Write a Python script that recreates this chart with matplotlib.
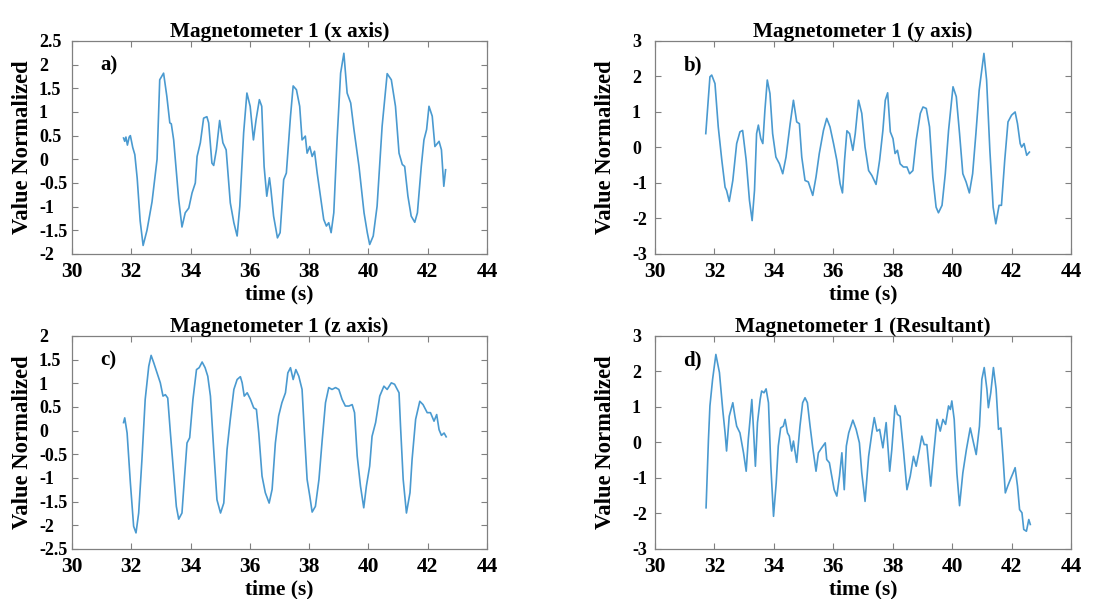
import matplotlib
matplotlib.use("Agg")
import matplotlib.pyplot as plt
import numpy as np

# values (time in s, normalized value)
t_x = [31.74, 31.78, 31.82, 31.87, 31.93, 31.97, 32.05, 32.12, 32.2, 32.3, 32.4, 32.53, 32.7, 32.87,
       32.96, 33.09, 33.2, 33.3, 33.35, 33.43, 33.6, 33.71, 33.82, 33.94, 34.05, 34.16, 34.22, 34.33,
       34.44, 34.55, 34.61, 34.72, 34.78, 34.87, 34.98, 35.09, 35.2, 35.34, 35.46, 35.57, 35.66, 35.79,
       35.9, 36.01, 36.12, 36.21, 36.32, 36.4, 36.48, 36.57, 36.66, 36.71, 36.8, 36.93, 37.02, 37.14,
       37.23, 37.37, 37.46, 37.57, 37.68, 37.76, 37.87, 37.93, 38.02, 38.1, 38.18, 38.27, 38.38, 38.49,
       38.58, 38.66, 38.74, 38.83, 38.94, 39.06, 39.17, 39.28, 39.4, 39.51, 39.68, 39.85, 39.96, 40.04,
       40.16, 40.29, 40.46, 40.63, 40.77, 40.91, 41.03, 41.14, 41.22, 41.33, 41.44, 41.56, 41.65, 41.78,
       41.87, 41.96, 42.04, 42.15, 42.24, 42.38, 42.46, 42.54, 42.6]
v_x = [0.45, 0.38, 0.47, 0.3, 0.47, 0.5, 0.25, 0.1, -0.4, -1.3, -1.82, -1.5, -0.9, 0.0,
       1.68, 1.82, 1.33, 0.77, 0.75, 0.41, -0.85, -1.43, -1.13, -1.03, -0.71, -0.5, 0.06, 0.35,
       0.87, 0.9, 0.77, -0.08, -0.13, 0.2, 0.82, 0.35, 0.2, -0.92, -1.34, -1.62, -0.99, 0.56,
       1.4, 1.12, 0.41, 0.84, 1.26, 1.12, -0.15, -0.78, -0.39, -0.64, -1.2, -1.66, -1.55, -0.43,
       -0.29, 0.91, 1.55, 1.47, 1.12, 0.41, 0.49, 0.13, 0.27, 0.06, 0.17, -0.29, -0.78, -1.27,
       -1.41, -1.34, -1.55, -1.13, 0.41, 1.82, 2.24, 1.4, 1.19, 0.63, -0.15, -1.13, -1.55, -1.8,
       -1.62, -0.99, 0.7, 1.81, 1.68, 1.12, 0.13, -0.11, -0.15, -0.78, -1.2, -1.33, -1.13, -0.15,
       0.41, 0.63, 1.12, 0.91, 0.27, 0.38, 0.2, -0.57, -0.22]

t_y = [31.71, 31.85, 31.91, 32.02, 32.13, 32.25, 32.36, 32.41, 32.5, 32.62, 32.75, 32.86, 32.95, 33.07,
       33.18, 33.27, 33.35, 33.42, 33.48, 33.56, 33.63, 33.7, 33.78, 33.87, 33.96, 34.07, 34.19, 34.3,
       34.41, 34.55, 34.66, 34.77, 34.86, 34.94, 35.05, 35.16, 35.31, 35.42, 35.53, 35.67, 35.78, 35.89,
       36.01, 36.12, 36.23, 36.31, 36.38, 36.46, 36.55, 36.66, 36.74, 36.85, 36.96, 37.07, 37.19, 37.3,
       37.44, 37.56, 37.67, 37.75, 37.83, 37.92, 38.01, 38.08, 38.16, 38.25, 38.36, 38.48, 38.57, 38.68,
       38.79, 38.93, 39.02, 39.13, 39.24, 39.35, 39.46, 39.54, 39.66, 39.77, 39.88, 40.03, 40.14, 40.25,
       40.36, 40.47, 40.58, 40.69, 40.8, 40.91, 41.07, 41.16, 41.27, 41.38, 41.47, 41.58, 41.66, 41.77,
       41.88, 42.0, 42.12, 42.2, 42.29, 42.34, 42.42, 42.51, 42.6]
v_y = [0.39, 1.99, 2.04, 1.8, 0.58, -0.36, -1.12, -1.21, -1.52, -0.93, 0.11, 0.44, 0.48, -0.36,
       -1.49, -2.06, -1.21, 0.39, 0.63, 0.25, 0.11, 1.05, 1.9, 1.52, 0.39, -0.27, -0.46, -0.74,
       -0.27, 0.67, 1.33, 0.72, 0.67, -0.27, -0.93, -0.97, -1.35, -0.83, -0.17, 0.48, 0.82, 0.58,
       0.11, -0.36, -1.02, -1.28, -0.36, 0.47, 0.39, -0.08, 0.39, 1.33, 0.96, 0.01, -0.65, -0.79,
       -1.04, -0.36, 0.48, 1.33, 1.54, 0.44, 0.25, -0.17, -0.08, -0.46, -0.55, -0.55, -0.74, -0.65,
       0.2, 0.96, 1.14, 1.1, 0.58, -0.83, -1.68, -1.84, -1.63, -0.74, 0.48, 1.71, 1.43, 0.39,
       -0.74, -0.97, -1.28, -0.74, 0.39, 1.61, 2.65, 1.9, -0.08, -1.68, -2.15, -1.63, -1.63, -0.36,
       0.72, 0.91, 1.0, 0.67, 0.11, 0.01, 0.11, -0.22, -0.13]

t_z = [31.74, 31.78, 31.86, 31.97, 32.08, 32.16, 32.25, 32.36, 32.47, 32.59, 32.67, 32.76, 32.87, 32.98,
       33.07, 33.15, 33.23, 33.32, 33.41, 33.52, 33.6, 33.71, 33.79, 33.88, 33.97, 34.08, 34.2, 34.29,
       34.39, 34.49, 34.58, 34.67, 34.78, 34.89, 35.01, 35.12, 35.23, 35.34, 35.46, 35.57, 35.68, 35.74,
       35.81, 35.91, 36.02, 36.13, 36.22, 36.3, 36.41, 36.52, 36.65, 36.75, 36.86, 36.97, 37.08, 37.2,
       37.28, 37.37, 37.46, 37.55, 37.65, 37.76, 37.84, 37.93, 38.02, 38.1, 38.21, 38.33, 38.44, 38.55,
       38.66, 38.77, 38.89, 39.0, 39.11, 39.22, 39.34, 39.45, 39.53, 39.62, 39.73, 39.84, 39.93, 40.04,
       40.12, 40.24, 40.38, 40.52, 40.63, 40.77, 40.88, 41.03, 41.08, 41.17, 41.28, 41.4, 41.47, 41.59,
       41.73, 41.84, 41.98, 42.09, 42.21, 42.3, 42.38, 42.46, 42.55, 42.62]
v_z = [0.17, 0.27, -0.05, -1.1, -2.02, -2.16, -1.74, -0.61, 0.66, 1.36, 1.59, 1.43, 1.22, 1.01,
       0.73, 0.76, 0.69, -0.05, -0.75, -1.6, -1.87, -1.74, -1.03, -0.26, -0.15, 0.66, 1.29, 1.33,
       1.45, 1.33, 1.15, 0.73, -0.4, -1.46, -1.74, -1.53, -0.4, 0.24, 0.87, 1.08, 1.14, 1.01,
       0.73, 0.8, 0.66, 0.48, 0.45, -0.05, -0.96, -1.31, -1.53, -1.24, -0.26, 0.31, 0.59, 0.8,
       1.22, 1.33, 1.08, 1.29, 1.15, 0.87, -0.05, -1.03, -1.38, -1.72, -1.6, -1.03, -0.19, 0.59,
       0.91, 0.87, 0.91, 0.87, 0.66, 0.52, 0.52, 0.55, 0.38, -0.54, -1.17, -1.63, -1.17, -0.75,
       -0.12, 0.17, 0.73, 0.94, 0.87, 1.01, 0.98, 0.8, 0.1, -1.03, -1.74, -1.31, -0.61, 0.24,
       0.62, 0.55, 0.38, 0.38, 0.2, 0.34, 0.02, -0.1, -0.05, -0.13]

t_r = [31.72, 31.8, 31.85, 31.94, 32.05, 32.17, 32.28, 32.36, 32.41, 32.5, 32.62, 32.69, 32.75, 32.86,
       32.98, 33.07, 33.14, 33.26, 33.31, 33.38, 33.45, 33.54, 33.59, 33.67, 33.74, 33.82, 33.9, 33.99,
       34.08, 34.15, 34.23, 34.32, 34.38, 34.46, 34.52, 34.6, 34.66, 34.77, 34.88, 34.97, 35.05, 35.13,
       35.22, 35.31, 35.42, 35.5, 35.61, 35.73, 35.78, 35.87, 35.95, 36.03, 36.12, 36.21, 36.29, 36.37,
       36.44, 36.52, 36.66, 36.77, 36.88, 36.96, 37.07, 37.19, 37.3, 37.38, 37.47, 37.56, 37.67, 37.78,
       37.9, 37.97, 38.08, 38.16, 38.25, 38.36, 38.48, 38.59, 38.7, 38.79, 38.9, 38.98, 39.06, 39.15,
       39.28, 39.37, 39.49, 39.6, 39.69, 39.78, 39.88, 39.94, 39.99, 40.07, 40.16, 40.25, 40.36, 40.48,
       40.61, 40.72, 40.81, 40.92, 41.0, 41.08, 41.17, 41.22, 41.3, 41.39, 41.48, 41.56, 41.64, 41.71,
       41.79, 41.87, 41.96, 42.05, 42.12, 42.2, 42.27, 42.35, 42.41, 42.5, 42.58, 42.63]
v_r = [-1.84, 0.08, 1.03, 1.78, 2.48, 1.97, 0.93, 0.27, -0.24, 0.74, 1.12, 0.74, 0.46, 0.27,
       -0.29, -0.81, 0.08, 1.21, 0.46, -0.67, 0.56, 1.21, 1.45, 1.4, 1.51, 1.12, -0.67, -2.08,
       -1.14, -0.1, 0.41, 0.46, 0.65, 0.27, 0.18, -0.24, 0.04, -0.56, 0.46, 1.12, 1.26, 1.12,
       0.46, -0.15, -0.81, -0.29, -0.15, -0.01, -0.48, -0.57, -0.95, -1.33, -1.51, -0.95, -0.29, -1.33,
       -0.1, 0.27, 0.63, 0.37, -0.01, -0.86, -1.66, -0.39, 0.27, 0.7, 0.32, 0.37, -0.15, 0.56,
       -0.81, -0.2, 1.04, 0.79, 0.74, -0.2, -1.33, -0.95, -0.39, -0.67, -0.2, 0.18, -0.06, -0.06,
       -1.23, -0.39, 0.65, 0.32, 0.65, 0.51, 1.03, 0.93, 1.17, 0.65, -0.86, -1.78, -0.86, -0.2,
       0.41, -0.01, -0.34, 0.46, 1.78, 2.11, 1.5, 0.98, 1.4, 2.11, 1.5, 0.37, 0.41, -0.39,
       -1.42, -1.23, -1.04, -0.86, -0.71, -1.23, -1.89, -1.98, -2.45, -2.5, -2.17, -2.31]

titles = ['Magnetometer 1 (x axis)', 'Magnetometer 1 (y axis)',
          'Magnetometer 1 (z axis)', 'Magnetometer 1 (Resultant)']
letters = ['a)', 'b)', 'c)', 'd)']
x_ticks = [30, 32, 34, 36, 38, 40, 42, 44]
y_ticks = [[-2, -1.5, -1, -0.5, 0, 0.5, 1, 1.5, 2, 2.5],
           [-3, -2, -1, 0, 1, 2, 3],
           [-2.5, -2, -1.5, -1, -0.5, 0, 0.5, 1, 1.5, 2],
           [-3, -2, -1, 0, 1, 2, 3]]
series = [(t_x, v_x), (t_y, v_y), (t_z, v_z), (t_r, v_r)]

plt.rcParams['font.family'] = 'Liberation Serif'
plt.rcParams['font.weight'] = 'bold'

fig = plt.figure(figsize=(11.19, 5.99), dpi=100)
boxes = [[0.0643, 0.576, 0.371, 0.3556], [0.5853, 0.576, 0.3718, 0.3556],
         [0.0643, 0.0835, 0.371, 0.3556], [0.5853, 0.0835, 0.3718, 0.3556]]
# y tick labels are left aligned; distance (pt) from axis to their left edge
ytick_pad = [23.8, 16.6, 23.8, 16.6]

line_col = '#4a9ad0'
edge_col = '#808080'

for i in range(4):
    ax = fig.add_axes(boxes[i])
    t, v = series[i]
    ax.plot(t, v, color=line_col, lw=1.2)
    ax.set_xlim(30, 44)
    ax.set_ylim(y_ticks[i][0], y_ticks[i][-1])
    ax.set_xticks(x_ticks)
    ax.set_yticks(y_ticks[i])
    ax.set_yticklabels(['%g' % y for y in y_ticks[i]], ha='left')
    ax.tick_params(axis='both', direction='in', top=True, right=True,
                   color=edge_col, length=4, width=0.8)
    ax.tick_params(axis='x', labelsize=15.5, pad=6)
    ax.tick_params(axis='y', labelsize=13, pad=ytick_pad[i])
    for s in ax.spines.values():
        s.set_color(edge_col)
        s.set_linewidth(0.9)
    ax.set_title(titles[i], fontsize=15.3, fontweight='bold', pad=3)
    ax.set_xlabel('time (s)', fontsize=15.5, fontweight='bold')
    ax.xaxis.set_label_coords(0.5, -0.145)
    ax.set_ylabel('Value Normalized', fontsize=16.3, fontweight='bold')
    ax.yaxis.set_label_coords(-0.094, 0.5)
    ax.text(0.068, 0.885, letters[i], transform=ax.transAxes, fontsize=15,
            fontweight='bold', va='center', ha='left')

fig.savefig('out.png', dpi=100)
